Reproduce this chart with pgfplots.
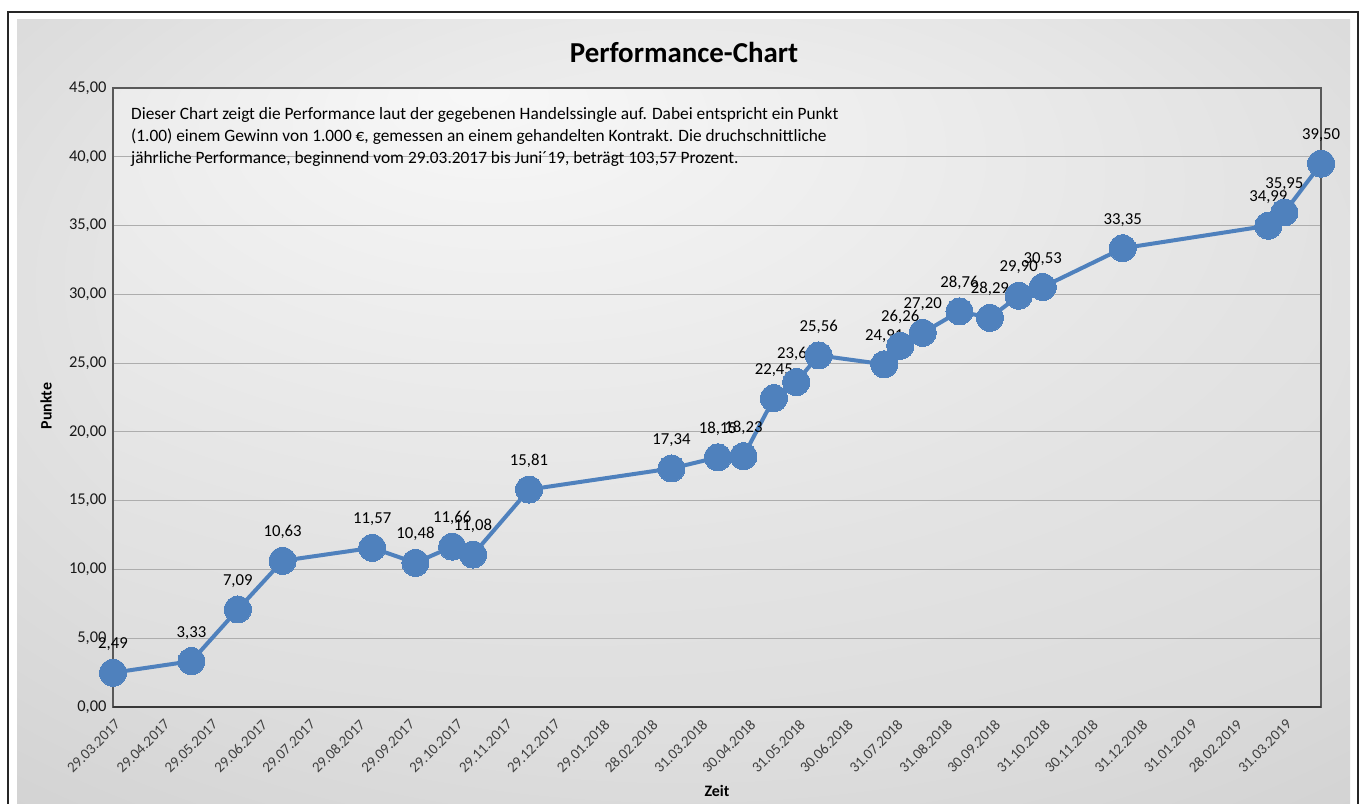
\documentclass[border=0pt]{standalone}
\usepackage{pgfplots}
\pgfplotsset{compat=1.18}
\usepackage{fontspec}
\setmainfont{Carlito}
\definecolor{xlblue}{RGB}{79,129,189}
\pgfdeclareradialshading{chartbg}{\pgfpoint{0bp}{12bp}}{color(0bp)=(white!96!black); color(20bp)=(white!90!black); color(75bp)=(white!70!black)}
\pgfdeclareradialshading{plotbg}{\pgfpoint{-10bp}{25bp}}{color(0bp)=(white!97!black); color(30bp)=(white!89!black); color(85bp)=(white!78!black)}
\begin{document}
\begin{tikzpicture}[x=1bp,y=1bp]
\useasboundingbox (0,0) rectangle (1363,803);
\fill[white] (0,0) rectangle (1363,803);
\shade[shading=chartbg] (17,0) rectangle (1350,783);
\draw[black!85, line width=1.5bp] (8,-5) -- (8,791) -- (1358,791) -- (1358,-5);
\begin{axis}[
  at={(113bp,96bp)}, anchor=south west,
  width=1208bp, height=619bp, scale only axis,
  xmin=0, xmax=755, ymin=0, ymax=45,
  clip=false,
  axis background/.style={shade, shading=plotbg},
  axis line style={draw=black!65, line width=1.3bp},
  major tick length=0pt,
  ytick={0,5,...,45},
  yticklabel={\pgfmathprintnumber[fixed,fixed zerofill,precision=2,use comma]{\tick}},
  /pgf/number format/assume math mode=true,
  ymajorgrids,
  grid style={draw=black!32, line width=1.2bp},
  y tick label style={font=\fontsize{16.5}{19}\selectfont, text=black!90, xshift=-3bp},
  xtick={0,31,61,92,122,153,184,214,245,275,306,336,367,397,428,458,489,520,550,581,611,642,673,701,732},
  xticklabels={29.03.2017,29.04.2017,29.05.2017,29.06.2017,29.07.2017,29.08.2017,29.09.2017,29.10.2017,29.11.2017,29.12.2017,29.01.2018,28.02.2018,31.03.2018,30.04.2018,31.05.2018,30.06.2018,31.07.2018,31.08.2018,30.09.2018,31.10.2018,30.11.2018,31.12.2018,31.01.2019,28.02.2019,31.03.2019},
  x tick label style={font=\fontsize{15}{18}\selectfont, text=black!75, rotate=45, anchor=east, xshift=-4bp, yshift=-14bp},
  nodes near coords={\pgfmathprintnumber[fixed,fixed zerofill,precision=2,use comma]{\pgfplotspointmeta}},
  every node near coord/.append style={font=\fontsize{16.8}{19}\selectfont, text=black, anchor=base, inner sep=0pt, yshift=24bp},
]
\addplot[color=xlblue, line width=4bp, mark=*, mark size=13.5bp, mark options={fill=xlblue, draw=xlblue, line width=0pt}] table {
x y
0 2.49
49 3.33
78 7.09
106 10.63
162 11.57
189 10.48
212 11.66
225 11.08
260 15.81
349 17.34
378 18.15
394 18.23
413 22.45
427 23.62
441 25.56
482 24.91
492 26.26
506 27.20
529 28.76
548 28.29
566 29.90
581 30.53
631 33.35
722 34.99
732 35.95
755 39.50
};
\draw[black!78, line width=2.6bp] (rel axis cs:0,0) -- (rel axis cs:1,0);
\end{axis}
\node[font=\bfseries\fontsize{29}{33}\selectfont] at (684,751) {Performance-Chart};
\node[font=\bfseries\fontsize{16}{19}\selectfont] at (717,12) {Zeit};
\node[font=\bfseries\fontsize{16}{19}\selectfont, rotate=90] at (46,397) {Punkte};
\node[font=\fontsize{17.4}{22}\selectfont, align=left, anchor=north west, inner sep=0pt] at (131,696) {Dieser Chart zeigt die Performance laut der gegebenen Handelssingle auf. Dabei entspricht ein Punkt\\(1.00) einem Gewinn von 1.000 €, gemessen an einem gehandelten Kontrakt. Die druchschnittliche\\jährliche Performance, beginnend vom 29.03.2017 bis Juni´19, beträgt 103,57 Prozent.};
\end{tikzpicture}
\end{document}
